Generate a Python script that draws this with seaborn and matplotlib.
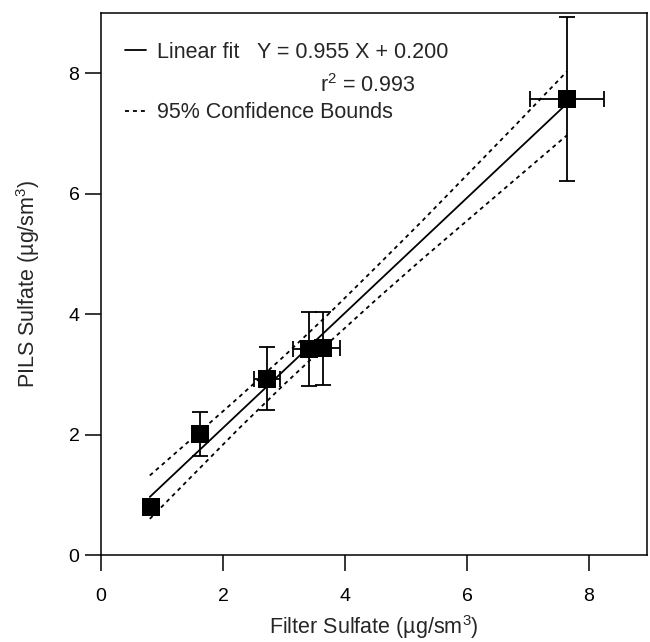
import matplotlib
matplotlib.use("Agg")
import matplotlib.pyplot as plt
from matplotlib.lines import Line2D
import seaborn as sns
import pandas as pd

# Data points (filter vs PILS sulfate)
filter_x = [0.82, 1.62, 2.72, 3.41, 3.64, 7.64]
pils_y = [0.80, 2.01, 2.93, 3.42, 3.43, 7.57]
filter_err = [0.05, 0.05, 0.21, 0.26, 0.28, 0.60]
pils_err = [0.08, 0.36, 0.53, 0.61, 0.61, 1.36]

# Fit line and 95% confidence bounds
fit_x = [0.8, 1.5, 2.25, 3.0, 3.75, 4.5, 5.25, 6.0, 6.75, 7.64]
fit_y = [0.964, 1.633, 2.349, 3.065, 3.781, 4.498, 5.214, 5.93, 6.646, 7.496]
ci_upper = [1.32, 1.94, 2.61, 3.30, 4.02, 4.77, 5.53, 6.31, 7.09, 8.03]
ci_lower = [0.60, 1.32, 2.09, 2.83, 3.54, 4.23, 4.90, 5.55, 6.20, 6.97]

x_ticks = [0, 2, 4, 6, 8]
y_ticks = [0, 2, 4, 6, 8]

sns.set_style("ticks")
plt.rcParams['font.family'] = ['Liberation Sans', 'DejaVu Sans']
plt.rcParams['mathtext.fontset'] = 'custom'
plt.rcParams['mathtext.rm'] = 'Liberation Sans'

LBL = 15.5
fig = plt.figure(figsize=(6.5, 6.42), dpi=100)
ax = fig.add_axes([0.1554, 0.1355, 0.8400, 0.8445])

pts = pd.DataFrame({"x": filter_x, "y": pils_y})
fit = pd.DataFrame({"x": fit_x, "y": fit_y, "up": ci_upper, "lo": ci_lower})

dash = (0, (2.2, 2.2))
sns.lineplot(data=fit, x="x", y="y", ax=ax, color="black", lw=1.3, sort=False)
sns.lineplot(data=fit, x="x", y="up", ax=ax, color="black", lw=1.3,
             linestyle=dash, sort=False)
sns.lineplot(data=fit, x="x", y="lo", ax=ax, color="black", lw=1.3,
             linestyle=dash, sort=False)

ax.errorbar(filter_x, pils_y, xerr=filter_err, yerr=pils_err, fmt="none",
            ecolor="black", elinewidth=1.3, capsize=6, capthick=1.3, zorder=3)
sns.scatterplot(data=pts, x="x", y="y", ax=ax, marker="s", s=160,
                color="black", edgecolor="black", linewidth=0, zorder=4)

ax.set_xlim(0, 8.95)
ax.set_ylim(0, 9.0)
ax.set_xticks(x_ticks)
ax.set_yticks(y_ticks)
ax.tick_params(direction="out", length=11.5, width=1.1, labelsize=14, colors="black")
ax.tick_params(axis="x", pad=12)
ax.tick_params(axis="y", pad=4)
for s in ax.spines.values():
    s.set_visible(True)
    s.set_linewidth(1.1)
    s.set_color("black")

ax.set_xlabel("Filter Sulfate (µg/sm$^3$)", fontsize=LBL)
ax.set_ylabel("PILS Sulfate (µg/sm$^3$)", fontsize=LBL)
ax.xaxis.set_label_coords(0.5, -0.107)
ax.yaxis.set_label_coords(-0.108, 0.5)

handles = [Line2D([], [], color="black", lw=1.3),
           Line2D([], [], color="none"),
           Line2D([], [], color="black", lw=1.3, linestyle=dash)]
labels = ["Linear fit   Y = 0.955 X + 0.200", " ", "95% Confidence Bounds"]
ax.legend(handles, labels, loc="upper left", frameon=False, fontsize=LBL,
          handlelength=1.0, handletextpad=0.5, labelspacing=0.42,
          borderpad=0.4, bbox_to_anchor=(0.008, 0.982))
ax.text(0.489, 0.866, "r$^2$ = 0.993", transform=ax.transAxes, fontsize=LBL,
        ha="center", va="center")

fig.savefig("out.png", dpi=100)
